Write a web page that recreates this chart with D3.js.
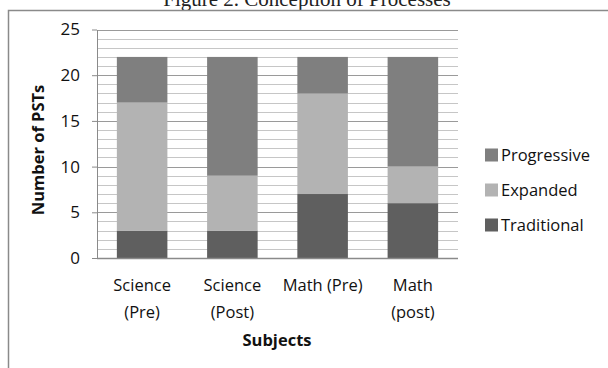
<!DOCTYPE html>
<html>
<head>
<meta charset="utf-8">
<script src="https://cdn.jsdelivr.net/npm/d3@7"></script>
<style>
  html, body { margin: 0; padding: 0; background: #fff; }
  svg { display: block; }
</style>
</head>
<body>
<svg id="chart" width="608" height="368"></svg>
<script>
// Subjects and number of PSTs per conception level
const categories = [["Science", "(Pre)"], ["Science", "(Post)"], ["Math (Pre)"], ["Math", "(post)"]];
const traditional = [3, 3, 7, 6];
const expanded = [14, 6, 11, 4];
const progressive = [5, 13, 4, 12];
const seriesNames = ["Traditional", "Expanded", "Progressive"];
const yTicks = [0, 5, 10, 15, 20, 25];

const colors = { Traditional: "#5f5f5f", Expanded: "#b3b3b3", Progressive: "#7f7f7f" };
const font = "'Open Sans', 'Liberation Sans', sans-serif";
const fs = 16.5;

const svg = d3.select("#chart");

// Title (sits above the frame's top edge)
svg.append("text")
  .attr("x", 307).attr("y", 6)
  .attr("text-anchor", "middle")
  .attr("font-family", "'Liberation Serif', 'Times New Roman', serif")
  .attr("font-size", 21)
  .attr("fill", "#222")
  .text("Figure 2.   Conception of Processes");

// Chart frame
svg.append("rect")
  .attr("x", 8.5).attr("y", 10.5)
  .attr("width", 640).attr("height", 400)
  .attr("fill", "none").attr("stroke", "#8a8a8a").attr("stroke-width", 1.5);

const plot = { left: 97, right: 458, top: 29.5, bottom: 258 };
const keys = categories.map((c, i) => i);

const x = d3.scaleBand().domain(keys).range([plot.left, plot.right]).paddingInner(0.44).paddingOuter(0.22);
const y = d3.scaleLinear().domain([0, 25]).range([plot.bottom, plot.top]);

// Gridlines: minor every 1, major every 5
const g = svg.append("g");
g.selectAll("line.minor")
  .data(d3.range(1, 25).filter(v => v % 5 !== 0))
  .join("line")
  .attr("class", "minor")
  .attr("x1", plot.left).attr("x2", plot.right)
  .attr("y1", d => Math.round(y(d)) + 0.5).attr("y2", d => Math.round(y(d)) + 0.5)
  .attr("stroke", "#c6c6c6").attr("stroke-width", 1);
g.selectAll("line.major")
  .data(yTicks.filter(v => v > 0))
  .join("line")
  .attr("class", "major")
  .attr("x1", plot.left).attr("x2", plot.right)
  .attr("y1", d => Math.round(y(d)) + 0.5).attr("y2", d => Math.round(y(d)) + 0.5)
  .attr("stroke", "#9a9a9a").attr("stroke-width", 1);

// Stacked bars
const rows = keys.map(i => ({ i, Traditional: traditional[i], Expanded: expanded[i], Progressive: progressive[i] }));
const stack = d3.stack().keys(seriesNames)(rows);
svg.append("g").selectAll("g")
  .data(stack)
  .join("g")
  .attr("fill", d => colors[d.key])
  .selectAll("rect")
  .data(d => d)
  .join("rect")
  .attr("x", d => x(d.data.i))
  .attr("width", x.bandwidth())
  .attr("y", d => y(d[1]))
  .attr("height", d => y(d[0]) - y(d[1]));

// Y axis
const yAxis = svg.append("g")
  .attr("transform", `translate(${plot.left},0)`)
  .call(d3.axisLeft(y).tickValues(yTicks).tickSize(5).tickPadding(12).tickSizeOuter(0));
yAxis.select(".domain").attr("stroke", "#8a8a8a");
yAxis.selectAll(".tick line").attr("stroke", "#8a8a8a");
yAxis.selectAll(".tick text")
  .attr("font-family", font).attr("font-size", 17).attr("fill", "#111");

// X axis baseline
svg.append("line")
  .attr("x1", plot.left).attr("x2", plot.right)
  .attr("y1", plot.bottom + 0.5).attr("y2", plot.bottom + 0.5)
  .attr("stroke", "#8a8a8a").attr("stroke-width", 1.5);

// Category labels
const xl = svg.append("g");
categories.forEach((lines, i) => {
  const cx = x(i) + x.bandwidth() / 2;
  const t = xl.append("text")
    .attr("x", cx)
    .attr("y", 291)
    .attr("text-anchor", "middle")
    .attr("font-family", font).attr("font-size", fs).attr("fill", "#111");
  lines.forEach((s, k) => t.append("tspan").attr("x", cx).attr("dy", k ? 27 : 0).text(s));
});

// Axis titles
svg.append("text")
  .attr("x", 277).attr("y", 346)
  .attr("text-anchor", "middle")
  .attr("font-family", font).attr("font-size", fs).attr("font-weight", "bold").attr("fill", "#111")
  .text("Subjects");
svg.append("text")
  .attr("transform", "translate(44,150) rotate(-90)")
  .attr("text-anchor", "middle")
  .attr("font-family", font).attr("font-size", fs).attr("font-weight", "bold").attr("fill", "#111")
  .text("Number of PSTs");

// Legend
const legendOrder = ["Progressive", "Expanded", "Traditional"];
const lg = svg.append("g");
legendOrder.forEach((name, k) => {
  const cy = 155 + k * 35;
  lg.append("rect").attr("x", 485).attr("y", cy - 6.5).attr("width", 13).attr("height", 13).attr("fill", colors[name]);
  lg.append("text").attr("x", 501).attr("y", cy + 6)
    .attr("font-family", font).attr("font-size", fs).attr("fill", "#111").text(name);
});
</script>
</body>
</html>
